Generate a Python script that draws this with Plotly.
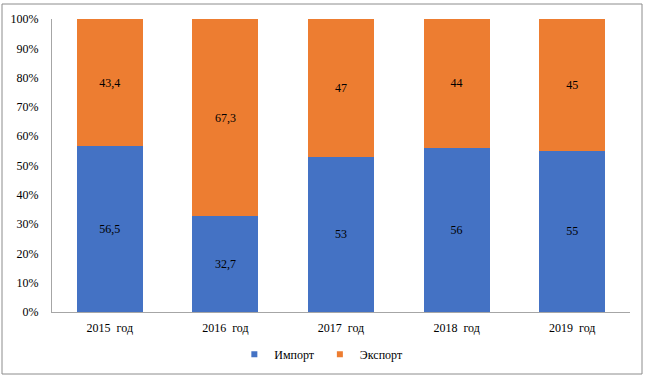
import plotly.graph_objects as go

categories = ["2015  год", "2016  год", "2017  год", "2018  год", "2019  год"]
import_vals = [56.5, 32.7, 53, 56, 55]
export_vals = [43.4, 67.3, 47, 44, 45]
import_labels = ["56,5", "32,7", "53", "56", "55"]
export_labels = ["43,4", "67,3", "47", "44", "45"]
y_ticks = [0, 10, 20, 30, 40, 50, 60, 70, 80, 90, 100]
y_tick_labels = ["0%", "10%", "20%", "30%", "40%", "50%", "60%", "70%", "80%", "90%", "100%"]
series_names = ["Импорт", "Экспорт"]
series_colors = ["#4472C4", "#ED7D31"]

font_family = "Liberation Serif"

fig = go.Figure()
for vals, labels, name, color in [(import_vals, import_labels, series_names[0], series_colors[0]),
                                  (export_vals, export_labels, series_names[1], series_colors[1])]:
    fig.add_trace(go.Bar(
        x=categories, y=vals, name=name, showlegend=False,
        marker=dict(color=color, line=dict(width=0)),
        text=labels, textposition="inside", insidetextanchor="middle",
        textfont=dict(color="#000000", size=12, family=font_family),
    ))
# legend entries with small square markers
for name, color in zip(series_names, series_colors):
    fig.add_trace(go.Scatter(
        x=[None], y=[None], mode="markers", name=name,
        marker=dict(symbol="square", size=6, color=color),
        showlegend=True,
    ))

fig.update_layout(
    barmode="stack",
    barnorm="percent",
    bargap=0.43,
    width=645, height=377,
    margin=dict(l=52, r=15, t=19, b=65, autoexpand=False),
    paper_bgcolor="white", plot_bgcolor="white",
    font=dict(family=font_family, size=12, color="#000000"),
    showlegend=True,
    legend=dict(orientation="h", x=0.466, xanchor="center", y=-0.095, yanchor="top",
                font=dict(size=12, family=font_family), itemwidth=30,
                traceorder="normal", tracegroupgap=0),
    uniformtext=dict(mode="show", minsize=12),
)
fig.update_yaxes(
    range=[0, 100], tickvals=y_ticks, ticktext=y_tick_labels,
    showgrid=False, zeroline=False, showline=True, linecolor="#A6A6A6", linewidth=1,
    ticks="", ticklabelstandoff=10,
)
fig.update_xaxes(
    showgrid=False, showline=True, linecolor="#A6A6A6", linewidth=1, ticks="",
    ticklabelstandoff=5,
)
fig.add_shape(type="rect", xref="paper", yref="paper",
              x0=(2 - 52) / 578, x1=(642 - 52) / 578,
              y0=(312 - 374) / 293, y1=(312 - 4) / 293,
              line=dict(color="#8C8C8C", width=1), fillcolor="rgba(0,0,0,0)")

fig.write_html("out.html", config={"displayModeBar": False},
               post_script="document.body.style.margin='0px';")
